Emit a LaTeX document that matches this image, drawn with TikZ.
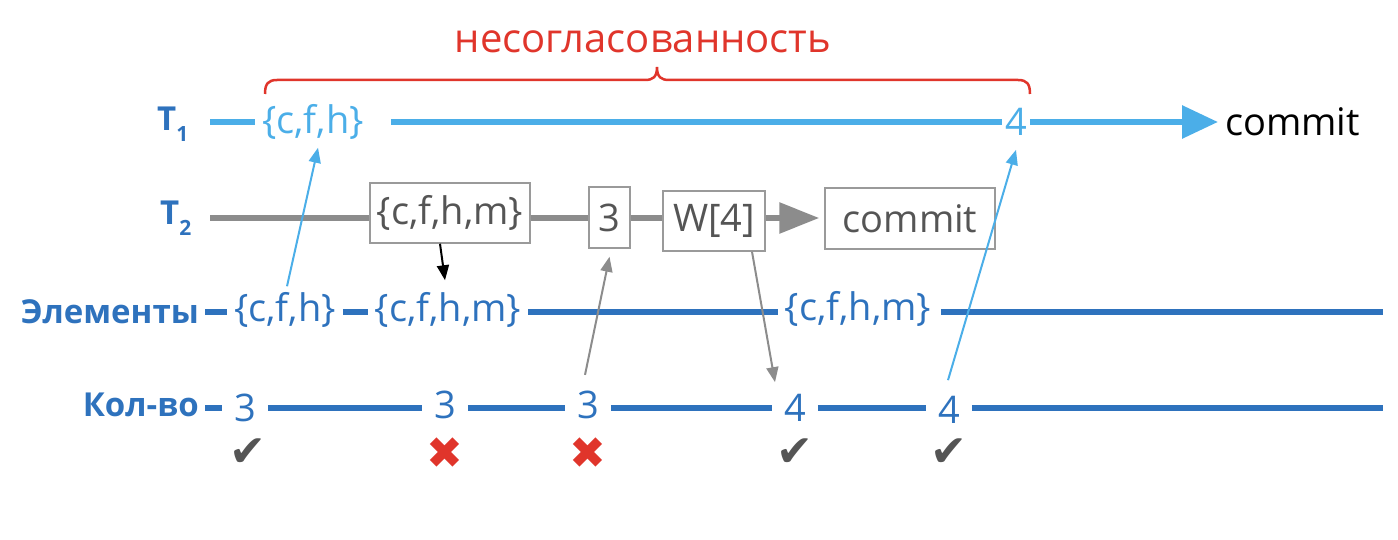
\documentclass[tikz,border=0pt]{standalone}
\usepackage{fontspec}
\setmainfont{Open Sans}
\newfontfamily\symfont{DejaVu Sans}
\usetikzlibrary{arrows.meta}
\definecolor{lblue}{HTML}{4BAEE8}
\definecolor{dblue}{HTML}{2E72BD}
\definecolor{lgray}{HTML}{8C8C8C}
\definecolor{boxgray}{HTML}{9A9A9A}
\definecolor{txtgray}{HTML}{555555}
\definecolor{bred}{HTML}{E0352B}
\newcommand{\tsub}[1]{\raisebox{-11pt}{\fontsize{21}{24}\selectfont #1}}
\begin{document}
\begin{tikzpicture}[x=1pt,y=-1pt]
	\tikzstyle{lbl}=[font=\bfseries\fontsize{33}{38}\selectfont,text=dblue,inner sep=0pt]
	\tikzstyle{val}=[font=\fontsize{38}{44}\selectfont,inner sep=0pt,outer xsep=7pt]
	\tikzstyle{num}=[val,text=dblue,outer xsep=12pt]
	\tikzstyle{lbox}=[draw=boxgray,line width=1.5pt,text=txtgray,font=\fontsize{38}{44}\selectfont,inner sep=0pt]
	\tikzstyle{tick}=[font=\symfont\fontsize{44}{48}\selectfont,inner sep=0pt]
	\tikzstyle{t1line}=[lblue,line width=6pt]
	\tikzstyle{t2line}=[lgray,line width=6pt]
	\tikzstyle{rowline}=[dblue,line width=6pt]
	\tikzstyle{thin}=[line width=2pt,-{Triangle[length=15pt,width=12pt]}]
	\useasboundingbox (0,0) rectangle (1398,540);
	
	% T1
	\node[lbl,anchor=base west] (t1lbl) at (157,131) {T\tsub{1}};
	\coordinate (t1s) at (210,122);
	\node[val,text=lblue] (t1a) at (313,122) {\{c,f,h\}};
	\node[val,text=lblue,outer xsep=3pt] (t1b) at (1016,122) {4};
	\node[val,anchor=west] (t1c) at (1218,122) {commit};
	\draw[t1line] (t1s) -- (t1a);
	\draw[t1line,shorten <=20pt] (t1a) -- (t1b);
	\draw[t1line,-{Triangle[length=36pt,width=32pt]}] (t1b) -- (t1c);
	\node[val,text=bred,font=\fontsize{40}{46}\selectfont] (inc) at (643,42) {несогласованность};
	\draw[bred,line width=2.5pt] (265,94) .. controls (265,84) and (268,80) .. (277,80) -- (645,80) .. controls (653,80) and (657,77) .. (657,67) .. controls (657,77) and (661,80) .. (669,80) -- (1018,80) .. controls (1027,80) and (1030,84) .. (1030,94);
	
	% T2
	\node[lbl,anchor=base west] (t2lbl) at (160,225) {T\tsub{2}};
	\coordinate (t2s) at (210,218);
	\node[lbox,minimum width=160pt,minimum height=60pt] (b1) at (450,213) {\{c,f,h,m\}};
	\node[lbox,minimum width=41pt,minimum height=61pt] (b2) at (609.5,217.5) {3};
	\node[lbox,minimum width=102pt,minimum height=60pt] (b3) at (714,221) {W[4]};
	\node[lbox,minimum width=170pt,minimum height=61pt] (b4) at (910,218.5) {commit};
	\draw[t2line] (t2s) -- (t2s -| b1.west);
	\draw[t2line] (b1.east |- t2s) -- (b2.west |- t2s);
	\draw[t2line] (b2.east |- t2s) -- (b3.west |- t2s);
	\draw[t2line,-{Triangle[length=40pt,width=30pt]},shorten >=5pt] (b3.east |- t2s) -- (b4.west |- t2s);
	
	% elements
	\node[lbl,anchor=east] (ellbl) at (199,312) {Элементы};
	\node[val,text=dblue] (ela) at (285,310) {\{c,f,h\}};
	\node[val,text=dblue] (elb) at (448,310) {\{c,f,h,m\}};
	\node[val,text=dblue] (elc) at (858,309) {\{c,f,h,m\}};
	\coordinate (ele) at (1383,312);
	\draw[rowline,shorten <=6pt] (ellbl.east) -- (ela.west |- ele);
	\draw[rowline] (ela.east |- ele) -- (elb.west |- ele);
	\draw[rowline] (elb.east |- ele) -- (elc.west |- ele);
	\draw[rowline] (elc.east |- ele) ++(3,0) -- (ele);
	
	% count
	\node[lbl,anchor=east] (kollbl) at (199,405) {Кол-во};
	\node[num] (k1) at (245,408) {3};
	\node[num] (k2) at (445,405) {3};
	\node[num] (k3) at (588,405) {3};
	\node[num] (k4) at (795,408) {4};
	\node[num] (k5) at (949,410) {4};
	\coordinate (ke) at (1383,408);
	\draw[rowline,shorten <=6pt] (kollbl.east |- ke) -- (k1.west |- ke);
	\draw[rowline] (k1.east |- ke) -- (k2.west |- ke);
	\draw[rowline] (k2.east |- ke) -- (k3.west |- ke);
	\draw[rowline] (k3.east |- ke) -- (k4.west |- ke);
	\draw[rowline] (k4.east |- ke) -- (k5.west |- ke);
	\draw[rowline] (k5.east |- ke) -- (ke);
	
	\node[tick,text=txtgray] (m1) at (248,453) {✔};
	\node[tick,text=bred] (m2) at (445,453) {✖};
	\node[tick,text=bred] (m3) at (588,453) {✖};
	\node[tick,text=txtgray] (m4) at (795,453) {✔};
	\node[tick,text=txtgray] (m5) at (949,453) {✔};
	
	% reads and writes
	\draw[thin,lblue] ([xshift=2pt,yshift=6pt]ela.north) -- ([xshift=5pt,yshift=-8pt]t1a.south);
	\draw[thin,black] ([xshift=-10pt]b1.south) -- ([xshift=-3pt,yshift=12pt]elb.north);
	\draw[thin,lgray] ([xshift=-3pt,yshift=16pt]k3.north) -- ([yshift=-8pt]b2.south);
	\draw[thin,lgray] ([xshift=38pt]b3.south) -- ([xshift=-20pt,yshift=12pt]k4.north);
	\draw[thin,lblue] ([xshift=-1pt,yshift=16pt]k5.north) -- ([yshift=-14pt]t1b.south);
\end{tikzpicture}
\end{document}
